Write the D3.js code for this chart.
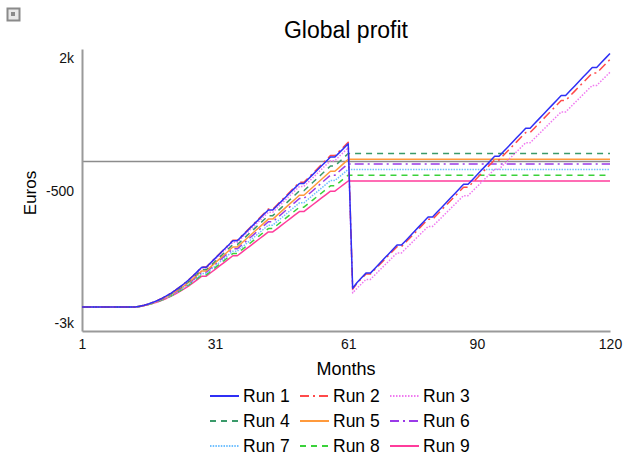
<!DOCTYPE html>
<html>
<head>
<meta charset="utf-8">
<script src="https://cdn.jsdelivr.net/npm/d3@7"></script>
<style>
  html, body { margin: 0; padding: 0; background: #fff; }
  svg { display: block; font-family: "Liberation Sans", Arial, sans-serif; }
</style>
</head>
<body>
<svg id="chart" width="624" height="462"></svg>
<script>
// ---------- DATA ----------
const title = "Global profit";
const xTitle = "Months";
const yTitle = "Euros";
const months = d3.range(1, 121);
const xTicks = [1, 31, 61, 90, 120];
const yTicks = [2000, -500, -3000];
const yTickLabels = ["2k", "-500", "-3k"];
const runNames = ["Run 1", "Run 2", "Run 3", "Run 4", "Run 5", "Run 6", "Run 7", "Run 8", "Run 9"];

const run1 = [-2740,-2740,-2740,-2740,-2740,-2740,-2740,-2740,-2740,-2740,-2740,-2740,-2740,
-2725,-2705,-2680,-2650,-2615,-2575,-2530,-2480,-2425,-2365,-2300,-2230,-2155,
-2072,-1989,-1989,-1906,-1823,-1740,-1657,-1574,-1491,-1491,
-1408,-1325,-1242,-1159,-1076,-993,-910,-910,-827,-744,
-661,-578,-495,-412,-412,-329,-246,-163,-80,3,
86,86,169,252,335,
-2386,-2276,-2188,-2100,-2100,-2012,-1924,-1836,-1748,
-1660,-1572,-1572,-1484,-1396,-1308,-1220,-1132,-1044,-1044,
-956,-868,-780,-692,-604,-516,-428,-428,-340,-252,
-164,-76,12,100,100,188,276,364,452,540,
628,628,716,804,892,980,1068,1156,1244,1244,
1332,1420,1508,1596,1684,1772,1772,1860,1948,2036];

const run2 = [-2740,-2740,-2740,-2740,-2740,-2740,-2740,-2740,-2740,-2740,-2740,-2740,-2740,
-2725,-2705,-2680,-2650,-2615,-2575,-2530,-2480,-2425,-2365,-2300,-2230,-2155,
-2071,-1987,-1987,-1903,-1819,-1735,-1651,-1567,-1483,-1483,
-1399,-1315,-1231,-1147,-1063,-979,-895,-895,-811,-727,
-643,-559,-475,-391,-391,-307,-223,-139,-55,29,
113,113,197,281,365,
-2400,-2290,-2204,-2118,-2118,-2032,-1946,-1860,-1774,
-1688,-1602,-1602,-1516,-1430,-1344,-1258,-1172,-1086,-1086,
-1000,-914,-828,-742,-656,-570,-484,-484,-398,-312,
-226,-140,-54,32,32,118,204,290,376,462,
548,548,634,720,806,892,978,1064,1150,1150,
1236,1322,1408,1494,1580,1666,1666,1752,1838,1924];

const run3 = [-2740,-2740,-2740,-2740,-2740,-2740,-2740,-2740,-2740,-2740,-2740,-2740,-2740,
-2725,-2705,-2681,-2652,-2618,-2579,-2535,-2486,-2432,-2373,-2310,-2242,-2169,
-2088,-2007,-2007,-1926,-1845,-1764,-1683,-1602,-1521,-1521,
-1440,-1359,-1278,-1197,-1116,-1035,-954,-954,-873,-792,
-711,-630,-549,-468,-468,-387,-306,-225,-144,-63,
18,18,99,180,261,
-2474,-2384,-2301,-2218,-2218,-2135,-2052,-1969,-1886,
-1803,-1720,-1720,-1637,-1554,-1471,-1388,-1305,-1222,-1222,
-1139,-1056,-973,-890,-807,-724,-641,-641,-558,-475,
-392,-309,-226,-143,-143,-60,23,106,189,272,
355,355,438,521,604,687,770,853,936,936,
1019,1102,1185,1268,1351,1434,1434,1517,1600,1683];

const run4 = [-2740,-2740,-2740,-2740,-2740,-2740,-2740,-2740,-2740,-2740,-2740,-2740,-2740,
-2726,-2707,-2683,-2655,-2622,-2584,-2542,-2495,-2443,-2386,-2325,-2259,-2188,
-2110,-2032,-2032,-1954,-1876,-1798,-1720,-1642,-1564,-1564,
-1486,-1408,-1330,-1252,-1174,-1096,-1018,-1018,-940,-862,
-784,-706,-628,-550,-550,-472,-394,-316,-238,-160,
-82,-82,-4,74,152,
152,152,152,152,152,152,152,152,152,
152,152,152,152,152,152,152,152,152,152,
152,152,152,152,152,152,152,152,152,152,
152,152,152,152,152,152,152,152,152,152,
152,152,152,152,152,152,152,152,152,152,
152,152,152,152,152,152,152,152,152,152];

const run5 = [-2740,-2740,-2740,-2740,-2740,-2740,-2740,-2740,-2740,-2740,-2740,-2740,-2740,
-2726,-2708,-2685,-2658,-2626,-2590,-2549,-2504,-2454,-2399,-2340,-2276,-2208,
-2133,-2058,-2058,-1983,-1908,-1833,-1758,-1683,-1608,-1608,
-1533,-1458,-1383,-1308,-1233,-1158,-1083,-1083,-1008,-933,
-858,-783,-708,-633,-633,-558,-483,-408,-333,-258,
-183,-183,-108,-33,42,
42,42,42,42,42,42,42,42,42,
42,42,42,42,42,42,42,42,42,42,
42,42,42,42,42,42,42,42,42,42,
42,42,42,42,42,42,42,42,42,42,
42,42,42,42,42,42,42,42,42,42,
42,42,42,42,42,42,42,42,42,42];

const run6 = [-2740,-2740,-2740,-2740,-2740,-2740,-2740,-2740,-2740,-2740,-2740,-2740,-2740,
-2727,-2709,-2687,-2661,-2630,-2595,-2556,-2512,-2464,-2411,-2354,-2293,-2227,
-2154,-2081,-2081,-2008,-1935,-1862,-1789,-1716,-1643,-1643,
-1570,-1497,-1424,-1351,-1278,-1205,-1132,-1132,-1059,-986,
-913,-840,-767,-694,-694,-621,-548,-475,-402,-329,
-256,-256,-183,-110,-45,
-45,-45,-45,-45,-45,-45,-45,-45,-45,
-45,-45,-45,-45,-45,-45,-45,-45,-45,-45,
-45,-45,-45,-45,-45,-45,-45,-45,-45,-45,
-45,-45,-45,-45,-45,-45,-45,-45,-45,-45,
-45,-45,-45,-45,-45,-45,-45,-45,-45,-45,
-45,-45,-45,-45,-45,-45,-45,-45,-45,-45];

const run7 = [-2740,-2740,-2740,-2740,-2740,-2740,-2740,-2740,-2740,-2740,-2740,-2740,-2740,
-2727,-2710,-2689,-2664,-2635,-2601,-2563,-2521,-2475,-2424,-2369,-2310,-2247,
-2177,-2107,-2107,-2037,-1967,-1897,-1827,-1757,-1687,-1687,
-1617,-1547,-1477,-1407,-1337,-1267,-1197,-1197,-1127,-1057,
-987,-917,-847,-777,-777,-707,-637,-567,-497,-427,
-357,-357,-287,-217,-147,
-147,-147,-147,-147,-147,-147,-147,-147,-147,
-147,-147,-147,-147,-147,-147,-147,-147,-147,-147,
-147,-147,-147,-147,-147,-147,-147,-147,-147,-147,
-147,-147,-147,-147,-147,-147,-147,-147,-147,-147,
-147,-147,-147,-147,-147,-147,-147,-147,-147,-147,
-147,-147,-147,-147,-147,-147,-147,-147,-147,-147];

const run8 = [-2740,-2740,-2740,-2740,-2740,-2740,-2740,-2740,-2740,-2740,-2740,-2740,-2740,
-2728,-2712,-2692,-2668,-2640,-2608,-2572,-2531,-2486,-2437,-2384,-2327,-2266,
-2199,-2132,-2132,-2065,-1998,-1931,-1864,-1797,-1730,-1730,
-1663,-1596,-1529,-1462,-1395,-1328,-1261,-1261,-1194,-1127,
-1060,-993,-926,-859,-859,-792,-725,-658,-591,-524,
-457,-457,-390,-323,-256,
-256,-256,-256,-256,-256,-256,-256,-256,-256,
-256,-256,-256,-256,-256,-256,-256,-256,-256,-256,
-256,-256,-256,-256,-256,-256,-256,-256,-256,-256,
-256,-256,-256,-256,-256,-256,-256,-256,-256,-256,
-256,-256,-256,-256,-256,-256,-256,-256,-256,-256,
-256,-256,-256,-256,-256,-256,-256,-256,-256,-256];

const run9 = [-2740,-2740,-2740,-2740,-2740,-2740,-2740,-2740,-2740,-2740,-2740,-2740,-2740,
-2728,-2712,-2693,-2670,-2643,-2612,-2577,-2538,-2495,-2448,-2397,-2343,-2285,
-2221,-2157,-2157,-2093,-2029,-1965,-1901,-1837,-1773,-1773,
-1709,-1645,-1581,-1517,-1453,-1389,-1325,-1325,-1261,-1197,
-1133,-1069,-1005,-941,-941,-877,-813,-749,-685,-621,
-557,-557,-493,-429,-365,
-365,-365,-365,-365,-365,-365,-365,-365,-365,
-365,-365,-365,-365,-365,-365,-365,-365,-365,-365,
-365,-365,-365,-365,-365,-365,-365,-365,-365,-365,
-365,-365,-365,-365,-365,-365,-365,-365,-365,-365,
-365,-365,-365,-365,-365,-365,-365,-365,-365,-365,
-365,-365,-365,-365,-365,-365,-365,-365,-365,-365];

const seriesValues = [run1, run2, run3, run4, run5, run6, run7, run8, run9];

// ---------- STYLE ----------
const colors = ["#2f2ff5", "#ff4a4a", "#f07af0", "#3a9a6a", "#ff9a3c", "#9a3ae8", "#70c0ff", "#3ad23a", "#ff3c9c"];
const dashes = [null, "9,4,2,4", "1.5,1.5", "6,5", null, "9,4,2,4", "1.5,1.2", "6,5", null];

const svg = d3.select("#chart");
svg.append("rect").attr("width", 624).attr("height", 462).attr("fill", "#fff");

const x = d3.scaleLinear().domain([1, 120]).range([82, 610]);
const y = d3.scaleLinear().domain([-3190, 2120]).range([331, 49]);

// corner icon
svg.append("rect").attr("x", 7.5).attr("y", 8.5).attr("width", 12).attr("height", 12)
  .attr("fill", "#e8e8e8").attr("stroke", "#8a8a8a").attr("stroke-width", 2);
svg.append("rect").attr("x", 11).attr("y", 12).attr("width", 4).attr("height", 4).attr("fill", "#8a8a8a");

// title
svg.append("text").attr("x", 346).attr("y", 38).attr("text-anchor", "middle")
  .attr("font-size", 23).attr("fill", "#000").text(title);

// zero line
svg.append("line").attr("x1", x(1)).attr("x2", x(120)).attr("y1", y(0)).attr("y2", y(0))
  .attr("stroke", "#8c8c8c").attr("stroke-width", 1.5);

// axes
const yAxis = d3.axisLeft(y).tickValues(yTicks).tickSize(0).tickPadding(8)
  .tickFormat((d, i) => yTickLabels[i]);
const gy = svg.append("g").attr("transform", `translate(${x(1)},0)`).call(yAxis);
const xAxis = d3.axisBottom(x).tickValues(xTicks).tickSize(0).tickPadding(8)
  .tickFormat(d3.format("d"));
const gx = svg.append("g").attr("transform", `translate(0,${y(-3190)})`).call(xAxis);
[gx, gy].forEach(g => {
  g.select(".domain").attr("stroke", "#9a9a9a").attr("stroke-width", 2);
  g.selectAll("text").attr("font-size", 14).attr("fill", "#111")
    .attr("font-family", '"Liberation Sans", Arial, sans-serif');
});
gy.selectAll("text").attr("dy", "0.5em");

// axis titles
svg.append("text").attr("x", 346).attr("y", 375).attr("text-anchor", "middle")
  .attr("font-size", 18).attr("fill", "#000").text(xTitle);
svg.append("text").attr("transform", "translate(36,193) rotate(-90)").attr("text-anchor", "middle")
  .attr("font-size", 17).attr("fill", "#000").text(yTitle);

// lines
const line = d3.line().x((d, i) => x(months[i])).y(d => y(d));
const order = [8, 7, 6, 5, 4, 3, 2, 1, 0];
order.forEach(k => {
  svg.append("path").datum(seriesValues[k]).attr("d", line)
    .attr("fill", "none").attr("stroke", colors[k]).attr("stroke-width", 1.5)
    .attr("stroke-dasharray", dashes[k]).attr("stroke-linejoin", "round");
});

// legend
const legCols = [210, 300, 390];
const legRows = [396, 421, 446];
runNames.forEach((name, k) => {
  const cx = legCols[k % 3], cy = legRows[Math.floor(k / 3)];
  const g = svg.append("g");
  g.append("line").attr("x1", cx).attr("x2", cx + 29).attr("y1", cy).attr("y2", cy)
    .attr("stroke", colors[k]).attr("stroke-width", 2).attr("stroke-dasharray", dashes[k]);
  g.append("text").attr("x", cx + 33).attr("y", cy).attr("dy", "0.36em")
    .attr("font-size", 17.5).attr("fill", "#000").text(name);
});
</script>
</body>
</html>
